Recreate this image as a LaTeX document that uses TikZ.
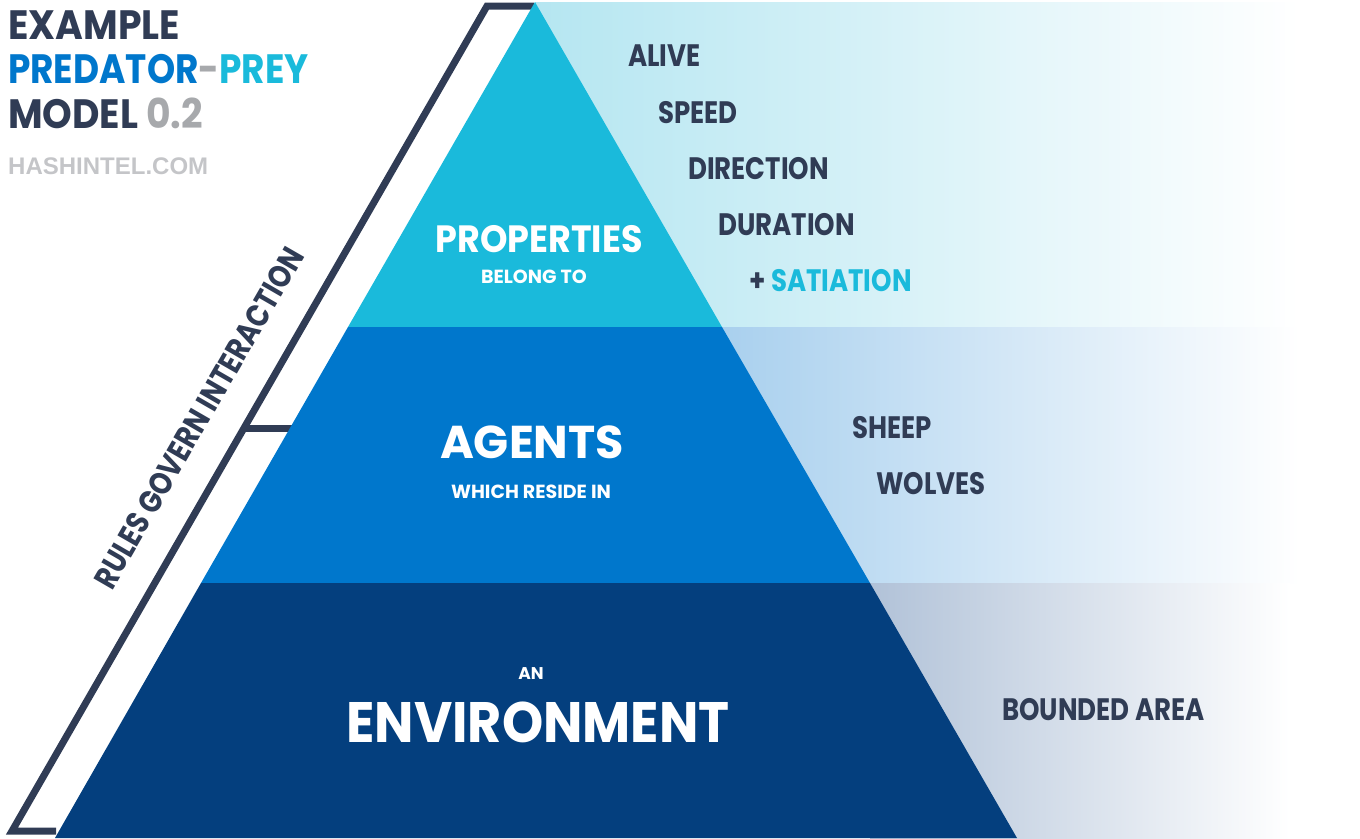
\documentclass[tikz,border=0pt]{standalone}
\usepackage{fontspec}
\setmainfont{Poppins}
\newfontfamily\headfont{Poppins}[FakeStretch=0.84]
\newfontfamily\midfont{Poppins}[FakeStretch=0.875]
\newfontfamily\titlefont{Poppins}[FakeStretch=0.92]
\newfontfamily\widefont{Poppins}
\newfontfamily\webfont{Liberation Sans}
\usepackage{tikz}

\definecolor{navycol}{HTML}{303C55}
\definecolor{cyancol}{HTML}{1ABADB}
\definecolor{bluecol}{HTML}{0077CC}
\definecolor{deepcol}{HTML}{043F7E}
\definecolor{greycol}{HTML}{A7A9AC}
\definecolor{sitecol}{HTML}{C4C5C8}
\definecolor{fadetop}{HTML}{B5E6F1}
\definecolor{fademid}{HTML}{A9D0EE}
\definecolor{fadelow}{HTML}{B1C2D8}
\newcommand{\fsz}[1]{\fontsize{#1}{#1}\selectfont}

\begin{document}
\begin{tikzpicture}[x=1pt, y=-1pt,
    heading/.style={anchor=base west, inner sep=0pt, font=\titlefont\bfseries\fsz{41}},
    tier/.style={anchor=base, inner sep=0pt, text=white},
    item/.style={anchor=base west, inner sep=0pt, text=navycol, font=\headfont\bfseries\fsz{31}}]

    \useasboundingbox (0, 0) rectangle (1360, 838);

    % faded bands on the right
    \fill[left color=fadetop, right color=white] (535, 2) rectangle (1300, 327);
    \fill[left color=fademid, right color=white] (722, 327) rectangle (1300, 583);
    \fill[left color=fadelow, right color=white] (870, 583) rectangle (1290, 838);

    % bracket
    \coordinate (btop) at (487, 6);
    \coordinate (bapex) at (534, 6);
    \coordinate (bfoot) at (12, 831);
    \coordinate (bend) at (56, 831);
    \coordinate (tickl) at (242, 428);
    \coordinate (tickr) at (292, 428);
    \draw[draw=navycol, line width=7pt, line join=miter] (bapex) -- (btop) -- (bfoot) -- (bend);
    \draw[draw=navycol, line width=7pt] (tickl) -- (tickr);

    % pyramid
    \fill[cyancol] (535, 2) -- (722, 327) -- (348, 327) -- cycle;
    \fill[bluecol] (348, 327) -- (722, 327) -- (870, 583) -- (201, 583) -- cycle;
    \fill[deepcol] (201, 583) -- (870, 583) -- (1017, 838) -- (55, 838) -- cycle;

    % title
    \node[heading, text=navycol] (title1) at (8, 39) {EXAMPLE};
    \node[heading, font=\midfont\bfseries\fsz{41}] (title2) at (8, 83) {\textcolor{bluecol}{PREDATOR}\textcolor{greycol}{-}\textcolor{cyancol}{PREY}};
    \node[heading, text=navycol] (title3) at (8, 128) {MODEL \textcolor{greycol}{0.2}};
    \node[anchor=base west, inner sep=0pt, text=sitecol, font=\webfont\bfseries\fsz{24}] (site) at (8, 174) {HASHINTEL.COM};

    \node[rotate=60, inner sep=0pt, text=navycol, font=\headfont\bfseries\fsz{32}] (rules) at (199, 418) {RULES GOVERN INTERACTION};

    % tiers
    \node[tier, font=\titlefont\bfseries\fsz{38}] (props) at (539, 252) {PROPERTIES};
    \node[tier, font=\widefont\bfseries\fsz{19}] (belong) at (534, 283) {BELONG TO};
    \node[tier, font=\widefont\bfseries\fsz{46}] (agents) at (532, 458) {AGENTS};
    \node[tier, font=\widefont\bfseries\fsz{19}] (reside) at (531, 498) {WHICH RESIDE IN};
    \node[tier, font=\widefont\bfseries\fsz{17}] (an) at (531, 679) {AN};
    \node[tier, font=\titlefont\bfseries\fsz{57}] (env) at (538, 742) {ENVIRONMENT};

    % members
    \node[item] (alive) at (628, 66) {ALIVE};
    \node[item] (speed) at (658, 123) {SPEED};
    \node[item] (direction) at (688, 179) {DIRECTION};
    \node[item] (duration) at (718, 235) {DURATION};
    \node[item] (satiation) at (749, 291) {+ \textcolor{cyancol}{SATIATION}};
    \node[item] (sheep) at (852, 438) {SHEEP};
    \node[item] (wolves) at (876, 494) {WOLVES};
    \node[item] (bounded) at (1002, 720) {BOUNDED AREA};

\end{tikzpicture}
\end{document}
